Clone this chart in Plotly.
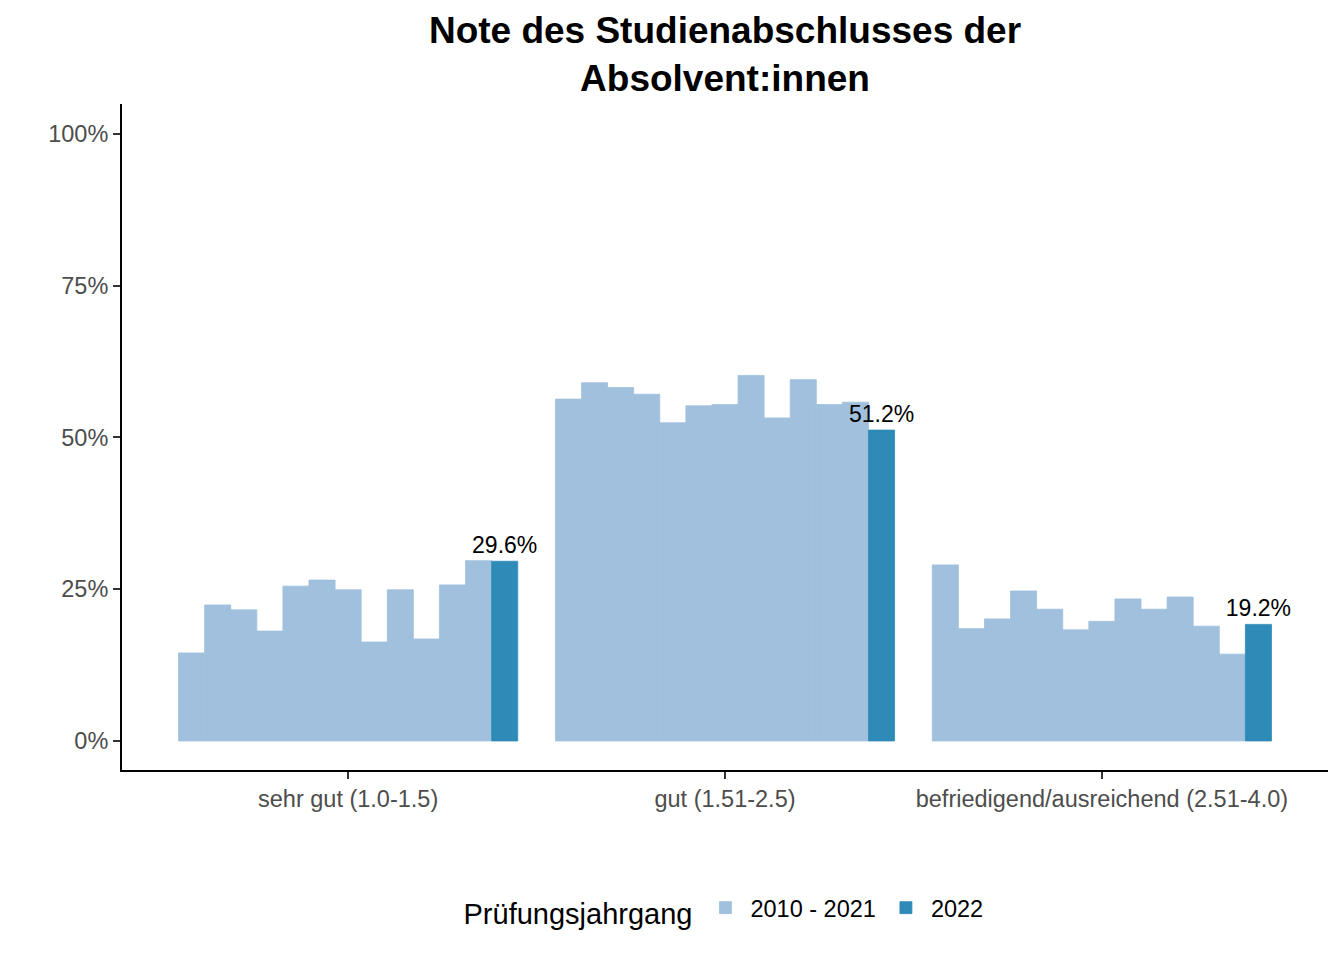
import plotly.graph_objects as go

categories = ["sehr gut (1.0-1.5)", "gut (1.51-2.5)", "befriedigend/ausreichend (2.51-4.0)"]
years_hist = [2010, 2011, 2012, 2013, 2014, 2015, 2016, 2017, 2018, 2019, 2020, 2021]
sehr_gut_hist = [14.5, 22.4, 21.6, 18.1, 25.5, 26.5, 24.9, 16.3, 24.9, 16.8, 25.7, 29.7]
gut_hist = [56.3, 59.0, 58.2, 57.1, 52.4, 55.2, 55.4, 60.2, 53.2, 59.5, 55.4, 55.8]
befr_hist = [29.0, 18.5, 20.1, 24.7, 21.7, 18.3, 19.7, 23.4, 21.7, 23.7, 18.9, 14.3]
values_2022 = [29.6, 51.2, 19.2]
tick_vals = [0, 25, 50, 75, 100]

FONT = "Liberation Sans, Arial, Helvetica, sans-serif"
LIGHT = "#A0C0DD"
DARK = "#2E8BB8"

fig = go.Figure()
for i, yr in enumerate(years_hist):
    fig.add_trace(go.Bar(
        x=categories,
        y=[sehr_gut_hist[i], gut_hist[i], befr_hist[i]],
        name="2010 - 2021",
        legendgroup="hist",
        showlegend=(i == 0),
        marker=dict(color=LIGHT, line=dict(width=0.8, color=LIGHT)),
        hoverinfo="skip",
    ))
fig.add_trace(go.Bar(
    x=categories,
    y=values_2022,
    name="2022",
    legendgroup="cur",
    marker=dict(color=DARK, line=dict(width=0.8, color=DARK)),
    text=[f"{v:.1f}%" for v in values_2022],
    textposition="outside",
    constraintext="none",
    cliponaxis=False,
    textfont=dict(family=FONT, size=23, color="black"),
    hoverinfo="skip",
))

fig.update_layout(
    width=1336, height=952,
    barmode="group", bargap=0.1, bargroupgap=0,
    paper_bgcolor="white", plot_bgcolor="white",
    margin=dict(l=114, r=16, t=96, b=190),
    font=dict(family=FONT, color="black"),
    title=dict(
        text="<b>Note des Studienabschlusses der<br>Absolvent:innen</b>",
        x=0.5, xref="paper", xanchor="center",
        y=1 - 35 / 952, yref="container", yanchor="middle",
        font=dict(family=FONT, size=37, color="black"),
    ),
    legend=dict(
        orientation="h",
        x=0.5, xanchor="center", xref="paper",
        y=-0.21, yanchor="middle",
        title=dict(text="Prüfungsjahrgang", font=dict(size=29, color="black"), side="left"),
        font=dict(size=23.5, color="black"),
        traceorder="normal",
        itemwidth=40,
    ),
    xaxis=dict(
        type="category",
        range=[-0.6, 2.6],
        showline=True, linecolor="black", linewidth=2,
        ticks="outside", ticklen=7, tickwidth=2, tickcolor="#333333",
        tickfont=dict(family=FONT, size=23.5, color="#4D4D4D"),
        showgrid=False, zeroline=False,
    ),
    yaxis=dict(
        range=[-4.78, 104.9],
        tickvals=tick_vals,
        ticktext=[f"{v}%" for v in tick_vals],
        showline=True, linecolor="black", linewidth=2,
        ticks="outside", ticklen=7, tickwidth=2, tickcolor="#333333",
        tickfont=dict(family=FONT, size=23.5, color="#4D4D4D"),
        showgrid=False, zeroline=False,
    ),
)

fig.write_html("out.html")
